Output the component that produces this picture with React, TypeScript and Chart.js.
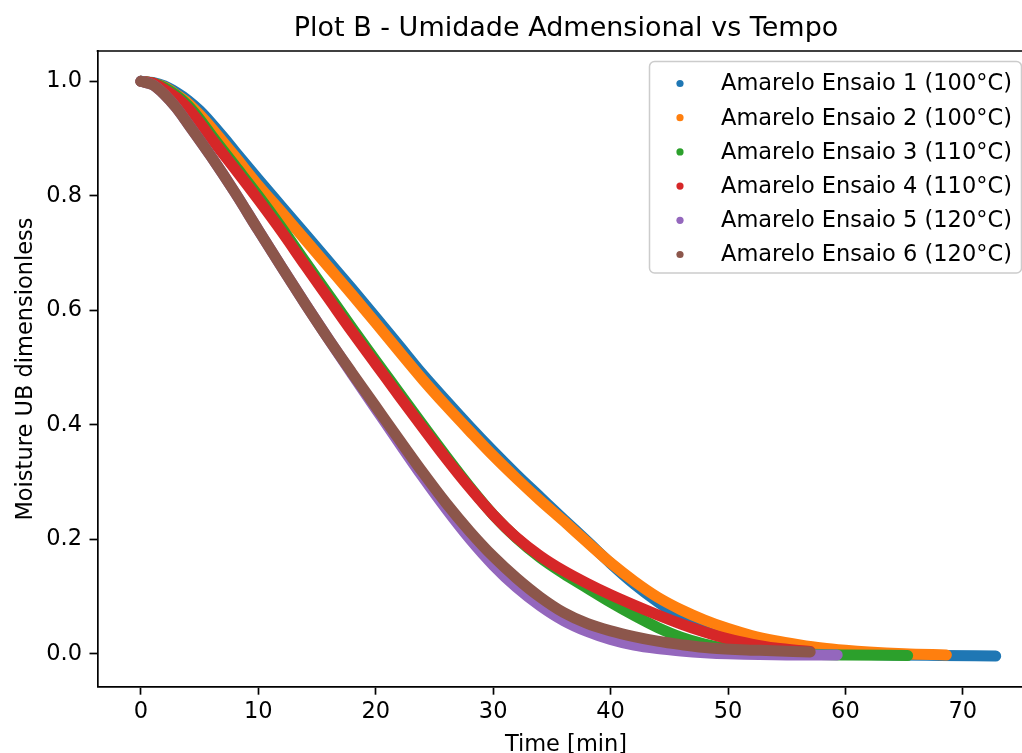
import React, { useEffect, useRef } from "react";
import { Chart, registerables } from "chart.js";

Chart.register(...registerables);

const TITLE = "Plot B - Umidade Admensional vs Tempo";
const X_LABEL = "Time [min]";
const Y_LABEL = "Moisture UB dimensionless";

const SERIES_LABELS = [
  "Amarelo Ensaio 1 (100°C)",
  "Amarelo Ensaio 2 (100°C)",
  "Amarelo Ensaio 3 (110°C)",
  "Amarelo Ensaio 4 (110°C)",
  "Amarelo Ensaio 5 (120°C)",
  "Amarelo Ensaio 6 (120°C)",
];
const SERIES_COLORS = ["#1f77b4", "#ff7f0e", "#2ca02c", "#d62728", "#9467bd", "#8c564b"];

// Ensaio 1
const T1 = [0, 1, 2, 3, 4, 5, 6, 7, 8, 10, 12, 14, 16, 18, 20, 22, 24, 26, 28, 30, 32, 34, 36, 38, 40, 42, 44, 46, 48, 50, 52, 54, 56, 58, 60, 64, 68, 72.8];
const V1 = [1.0, 0.998, 0.992, 0.981, 0.967, 0.949, 0.927, 0.903, 0.878, 0.829, 0.781, 0.733, 0.685, 0.637, 0.588, 0.538, 0.488, 0.442, 0.397, 0.354, 0.313, 0.274, 0.235, 0.197, 0.158, 0.122, 0.091, 0.064, 0.042, 0.027, 0.017, 0.01, 0.006, 0.003, 0.0, -0.002, -0.003, -0.004];
// Ensaio 2
const T2 = [0, 1, 2, 3, 4, 5, 6, 7, 8, 10, 12, 14, 16, 18, 20, 22, 24, 26, 28, 30, 32, 34, 36, 38, 40, 42, 44, 46, 48, 50, 52, 54, 56, 58, 60, 62, 65, 68.6];
const V2 = [1.0, 0.997, 0.99, 0.977, 0.962, 0.942, 0.919, 0.894, 0.869, 0.818, 0.771, 0.723, 0.675, 0.627, 0.578, 0.528, 0.479, 0.433, 0.389, 0.346, 0.306, 0.268, 0.232, 0.195, 0.159, 0.127, 0.099, 0.077, 0.059, 0.044, 0.032, 0.023, 0.016, 0.01, 0.006, 0.003, 0.0, -0.002];
// Ensaio 3
const T3 = [0, 1, 2, 3, 4, 5, 6, 8, 10, 12, 14, 16, 18, 20, 22, 24, 26, 28, 30, 32, 34, 36, 38, 40, 42, 44, 46, 48, 50, 52, 54, 57, 60, 65.3];
const V3 = [1.0, 0.997, 0.989, 0.976, 0.958, 0.934, 0.906, 0.853, 0.8, 0.744, 0.685, 0.627, 0.569, 0.512, 0.456, 0.4, 0.345, 0.292, 0.243, 0.202, 0.168, 0.14, 0.115, 0.09, 0.067, 0.046, 0.029, 0.017, 0.009, 0.004, 0.001, -0.001, -0.002, -0.003];
// Ensaio 4
const T4 = [0, 1, 2, 3, 4, 5, 6, 8, 10, 12, 14, 16, 18, 20, 22, 24, 26, 28, 30, 32, 34, 36, 38, 40, 42, 44, 46, 48, 50, 52, 54, 57];
const V4 = [1.0, 0.997, 0.986, 0.972, 0.953, 0.928, 0.9, 0.847, 0.793, 0.737, 0.678, 0.62, 0.562, 0.506, 0.45, 0.395, 0.341, 0.29, 0.243, 0.203, 0.171, 0.145, 0.123, 0.103, 0.085, 0.068, 0.052, 0.038, 0.026, 0.017, 0.01, 0.004];
// Ensaio 5
const T5 = [0, 1, 2, 3, 4, 6, 8, 10, 12, 14, 16, 18, 20, 22, 24, 26, 28, 30, 32, 34, 36, 38, 40, 42, 44, 46, 48, 50, 55, 59.3];
const V5 = [1.0, 0.994, 0.977, 0.954, 0.926, 0.868, 0.806, 0.74, 0.675, 0.611, 0.549, 0.488, 0.428, 0.368, 0.309, 0.253, 0.201, 0.155, 0.116, 0.084, 0.058, 0.039, 0.025, 0.015, 0.009, 0.005, 0.002, 0.0, -0.002, -0.002];
// Ensaio 6
const T6 = [0, 1, 2, 3, 4, 6, 8, 10, 12, 14, 16, 18, 20, 22, 24, 26, 28, 30, 32, 34, 36, 38, 40, 42, 44, 46, 48.5, 52.7, 57];
const V6 = [1.0, 0.994, 0.977, 0.954, 0.926, 0.868, 0.806, 0.74, 0.675, 0.611, 0.549, 0.49, 0.432, 0.374, 0.317, 0.263, 0.214, 0.17, 0.132, 0.099, 0.072, 0.053, 0.04, 0.03, 0.022, 0.016, 0.01, 0.006, 0.003];

const SERIES_T = [T1, T2, T3, T4, T5, T6];
const SERIES_V = [V1, V2, V3, V4, V5, V6];

const X_TICKS = [0, 10, 20, 30, 40, 50, 60, 70];
const Y_TICKS = [0, 0.2, 0.4, 0.6, 0.8, 1.0];

const FONT = '"DejaVu Sans", "Liberation Sans", sans-serif';

const decorPlugin = {
  id: "decor",
  afterDraw(chart: any) {
    const { ctx, chartArea } = chart;
    ctx.save();
    // top spine
    ctx.strokeStyle = "#000";
    ctx.lineWidth = 1.7;
    ctx.beginPath();
    ctx.moveTo(chartArea.left - 0.85, chartArea.top);
    ctx.lineTo(chartArea.right, chartArea.top);
    ctx.stroke();

    ctx.fillStyle = "#000";
    ctx.textAlign = "center";
    ctx.textBaseline = "alphabetic";
    ctx.font = `27px ${FONT}`;
    ctx.fillText(TITLE, 566, 36);
    ctx.font = `22.5px ${FONT}`;
    ctx.fillText(X_LABEL, 566, 750.5);
    ctx.save();
    ctx.translate(31.5, 369);
    ctx.rotate(-Math.PI / 2);
    ctx.fillText(Y_LABEL, 0, 0);
    ctx.restore();

    // legend
    const bx = 649.5, by = 61.5, bw = 372, bh = 211.5, r = 5;
    ctx.beginPath();
    ctx.moveTo(bx + r, by);
    ctx.lineTo(bx + bw - r, by);
    ctx.arcTo(bx + bw, by, bx + bw, by + r, r);
    ctx.lineTo(bx + bw, by + bh - r);
    ctx.arcTo(bx + bw, by + bh, bx + bw - r, by + bh, r);
    ctx.lineTo(bx + r, by + bh);
    ctx.arcTo(bx, by + bh, bx, by + bh - r, r);
    ctx.lineTo(bx, by + r);
    ctx.arcTo(bx, by, bx + r, by, r);
    ctx.closePath();
    ctx.fillStyle = "rgba(255,255,255,0.8)";
    ctx.fill();
    ctx.strokeStyle = "#cccccc";
    ctx.lineWidth = 1.5;
    ctx.stroke();

    ctx.textAlign = "left";
    ctx.font = `22.5px ${FONT}`;
    chart.data.datasets.forEach((ds: any, i: number) => {
      const cy = 83.5 + 34.2 * i;
      ctx.beginPath();
      ctx.fillStyle = ds.borderColor;
      ctx.arc(680, cy, 3.6, 0, Math.PI * 2);
      ctx.fill();
      ctx.fillStyle = "#000";
      ctx.fillText(ds.label, 721, cy + 6.8);
    });
    ctx.restore();
  },
};

export default function App() {
  const ref = useRef<HTMLCanvasElement | null>(null);

  useEffect(() => {
    if (!ref.current) return;
    const datasets = SERIES_LABELS.map((label, i) => ({
      label,
      data: SERIES_T[i].map((t, k) => ({ x: t, y: SERIES_V[i][k] })),
      borderColor: SERIES_COLORS[i],
      backgroundColor: SERIES_COLORS[i],
      showLine: true,
      borderWidth: 11,
      borderCapStyle: "round" as const,
      borderJoinStyle: "round" as const,
      pointRadius: 0,
      cubicInterpolationMode: "monotone" as const,
      order: 5 - i,
    }));

    const chart = new Chart(ref.current, {
      type: "scatter",
      data: { datasets },
      plugins: [decorPlugin],
      options: {
        animation: false,
        responsive: false,
        events: [],
        layout: { padding: { top: 51, left: 0, right: 0, bottom: 0 } },
        plugins: { legend: { display: false }, tooltip: { enabled: false }, title: { display: false } },
        scales: {
          x: {
            type: "linear",
            min: -3.7,
            max: 75.04,
            afterBuildTicks: (s: any) => { s.ticks = X_TICKS.map((v) => ({ value: v })); },
            afterFit: (s: any) => { s.height = 66.3; },
            grid: { drawOnChartArea: false, drawTicks: true, tickLength: 8, tickWidth: 1.7, tickColor: "#000" },
            border: { display: true, color: "#000", width: 1.7 },
            ticks: {
              color: "#000",
              padding: 4,
              font: { family: FONT, size: 22.5 },
              maxRotation: 0,
              autoSkip: false,
              callback: (v: any) => String(v),
            },
          },
          y: {
            type: "linear",
            min: -0.0575,
            max: 1.053,
            afterBuildTicks: (s: any) => { s.ticks = Y_TICKS.map((v) => ({ value: v })); },
            afterFit: (s: any) => { s.width = 97.5; },
            grid: { drawOnChartArea: false, drawTicks: true, tickLength: 8, tickWidth: 1.7, tickColor: "#000" },
            border: { display: true, color: "#000", width: 1.7 },
            ticks: {
              color: "#000",
              padding: 7.5,
              font: { family: FONT, size: 22.5 },
              autoSkip: false,
              callback: (v: any) => Number(v).toFixed(1),
            },
          },
        },
      },
    });
    return () => chart.destroy();
  }, []);

  return (
    <div style={{ position: "absolute", left: 0, top: 0, width: 1022, height: 753, background: "#fff", overflow: "hidden" }}>
      <canvas ref={ref} width={1022} height={753} style={{ display: "block" }} />
    </div>
  );
}
